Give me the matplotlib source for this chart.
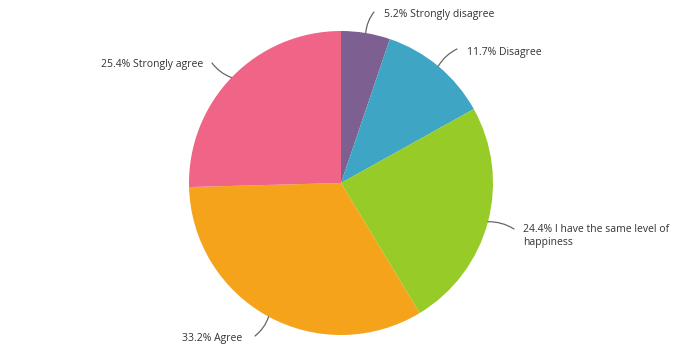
import matplotlib.pyplot as plt
import numpy as np

labels = ['Strongly disagree', 'Disagree', 'I have the same level of\nhappiness', 'Agree', 'Strongly agree']
values = [5.2, 11.7, 24.4, 33.2, 25.4]
colors = ['#7d5f92', '#3ea5c5', '#97cb27', '#f5a31b', '#f06487']

# label text anchors (pixel coords, y down) and line ends
text_pos = [(384, 14), (467, 52), (523, 236), (182, 338), (203, 64)]
line_end = [(374, 12), (457, 49), (514, 229), (255, 336), (212, 63)]
text_ha = ['left', 'left', 'left', 'left', 'right']

plt.rcParams['font.family'] = ['Open Sans', 'DejaVu Sans']

fig = plt.figure(figsize=(6.92, 3.55), dpi=100)
ax = fig.add_axes([0, 0, 1, 1])

# y axis runs downward, so counterclock=True draws clockwise on screen
cx, cy, r = 341, 183, 152
ax.pie(values, colors=colors, center=(cx, cy), radius=r,
       startangle=-90, counterclock=True,
       wedgeprops=dict(edgecolor='none', linewidth=0))
ax.set_xlim(0, 692)
ax.set_ylim(355, 0)
ax.set_aspect('equal')
ax.axis('off')

cum = np.cumsum([0] + values[:-1])
for i, (lab, v) in enumerate(zip(labels, values)):
    mid = (cum[i] + v / 2) / 100 * 2 * np.pi
    px = cx + r * np.sin(mid)
    py = cy - r * np.cos(mid)
    tx, ty = text_pos[i]
    ax.annotate('', xy=(px, py), xytext=line_end[i],
                arrowprops=dict(arrowstyle='-', color='#666666', lw=0.9,
                                connectionstyle='arc3,rad=0.15', shrinkA=0, shrinkB=0))
    ax.text(tx, ty, f'{v}% {lab}', ha=text_ha[i], va='center',
            fontsize=7.5, color='#333333', linespacing=1.3)

fig.savefig('out.png', dpi=100)
